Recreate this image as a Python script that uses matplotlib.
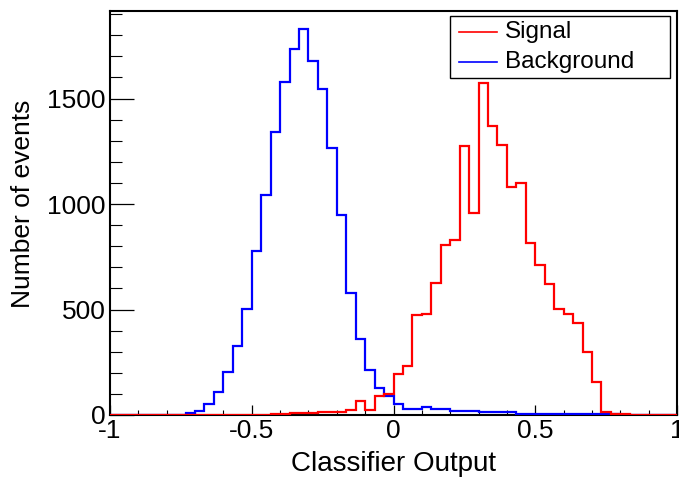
import numpy as np
import matplotlib
matplotlib.use("Agg")
import matplotlib.pyplot as plt
from matplotlib.ticker import MultipleLocator
from matplotlib.patches import Rectangle

plt.rcParams['font.family'] = ['Liberation Sans', 'DejaVu Sans']

# 60 bins from -1 to 1
bin_edges = np.linspace(-1, 1, 61)

signal = [0, 0, 0, 0, 0, 0, 1, 1, 1, 1, 1, 1, 1, 2, 2, 2, 2,
          4, 5, 8, 8, 8, 12, 12, 15, 24, 65, 24, 90, 98,
          195, 233, 473, 478, 626, 808, 831, 1275, 958, 1572,
          1370, 1281, 1080, 1101, 816, 713, 622, 502, 478, 438,
          298, 157, 14, 4, 3, 2, 2, 1, 1, 1]

background = [0, 0, 0, 0, 0, 0, 0, 1,
              10, 20, 52, 108, 203, 325, 503, 776, 1045, 1343, 1579, 1734,
              1829, 1678, 1545, 1265, 949, 578, 362, 214, 130, 92,
              52, 27, 27, 40, 27, 27, 19, 19, 19, 13,
              12, 12, 12, 6, 6, 6, 6, 6, 6, 6, 6, 6, 6, 6,
              0, 0, 0, 0, 0, 0]

labels = ['Signal', 'Background']
colors = ['#ff0000', '#0000ff']

fig = plt.figure(figsize=(6.79, 4.79), dpi=100)
ax = fig.add_axes([110 / 679, 64 / 479, 567 / 679, 404 / 479])

# blue first, red on top (red also runs along the baseline like in ROOT)
ax.stairs(background, bin_edges, color=colors[1], linewidth=1.6, zorder=3)
ax.stairs(signal, bin_edges, color=colors[0], linewidth=1.6, zorder=3.1)

ax.set_xlim(-1, 1)
ax.set_ylim(0, 1915)

ax.xaxis.set_major_locator(MultipleLocator(0.5))
ax.xaxis.set_minor_locator(MultipleLocator(0.1))
ax.yaxis.set_major_locator(MultipleLocator(500))
ax.yaxis.set_minor_locator(MultipleLocator(100))
ax.set_xticks([-1, -0.5, 0, 0.5, 1])
ax.set_xticklabels(['-1', '-0.5', '0', '0.5', '1'])

ax.tick_params(axis='x', which='major', direction='in', length=7.5, width=0.9, labelsize=19, pad=3)
ax.tick_params(axis='x', which='minor', direction='in', length=3.8, width=0.8)
ax.tick_params(axis='y', which='major', direction='in', length=17, width=0.9, labelsize=19, pad=3)
ax.tick_params(axis='y', which='minor', direction='in', length=8.5, width=0.8)

for s in ax.spines.values():
    s.set_linewidth(1.5)

ax.set_xlabel('Classifier Output', fontsize=20)
ax.set_ylabel('Number of events', fontsize=19)
ax.xaxis.set_label_coords(0.5, -0.09)
ax.yaxis.set_label_coords(-0.132, 0.522)

# ROOT-style legend box, drawn by hand
ax.add_patch(Rectangle((0.5996, 0.834), 0.3881, 0.1536, transform=ax.transAxes,
                       facecolor='white', edgecolor='black', linewidth=1.0, zorder=5))
row_y = [0.949, 0.8745]
for lab, col, yy in zip(labels, colors, row_y):
    ax.plot([0.6155, 0.6825], [yy, yy], color=col, linewidth=1.2,
            transform=ax.transAxes, zorder=6)
    ax.text(0.6966, yy, lab, fontsize=17.5, va='center', ha='left',
            transform=ax.transAxes, zorder=6)

fig.savefig('out.png', dpi=100)
